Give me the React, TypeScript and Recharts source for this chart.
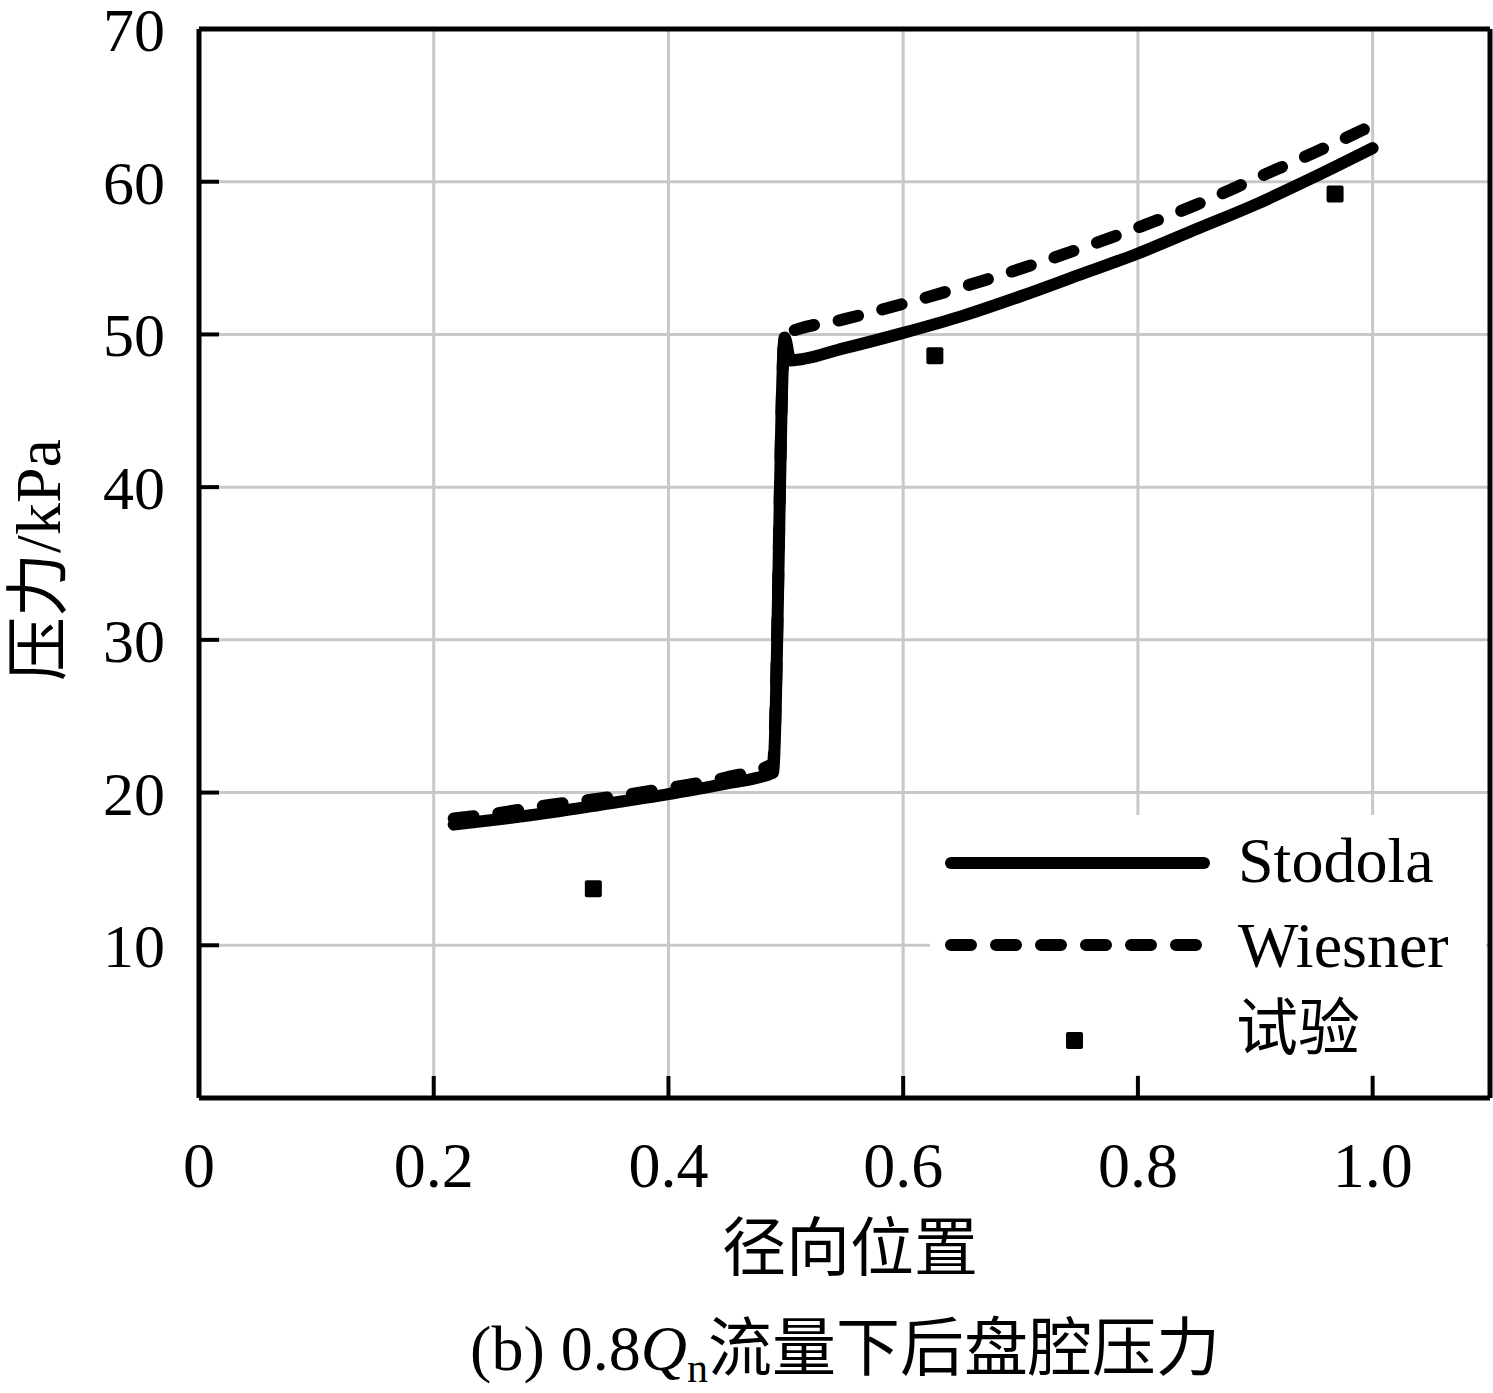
import {
  ComposedChart,
  Line,
  Scatter,
  XAxis,
  YAxis,
  CartesianGrid,
  Legend,
  ReferenceLine,
} from "recharts";

// radial position (x) and pressure in kPa (p)
const stodola = [
  { x: 0.217, p: 17.9 },
  { x: 0.25, p: 18.2 },
  { x: 0.3, p: 18.7 },
  { x: 0.35, p: 19.3 },
  { x: 0.4, p: 19.9 },
  { x: 0.45, p: 20.6 },
  { x: 0.489, p: 21.3 },
  { x: 0.499, p: 49.8 },
  { x: 0.504, p: 48.3 },
  { x: 0.55, p: 49.1 },
  { x: 0.6, p: 50.1 },
  { x: 0.65, p: 51.2 },
  { x: 0.7, p: 52.5 },
  { x: 0.75, p: 53.9 },
  { x: 0.8, p: 55.3 },
  { x: 0.85, p: 56.9 },
  { x: 0.9, p: 58.5 },
  { x: 0.95, p: 60.3 },
  { x: 1.0, p: 62.2 },
];

const wiesner = [
  { x: 0.217, p: 18.3 },
  { x: 0.25, p: 18.6 },
  { x: 0.3, p: 19.2 },
  { x: 0.35, p: 19.7 },
  { x: 0.4, p: 20.3 },
  { x: 0.45, p: 21.0 },
  { x: 0.489, p: 21.9 },
  { x: 0.499, p: 50.0 },
  { x: 0.55, p: 51.0 },
  { x: 0.6, p: 52.0 },
  { x: 0.65, p: 53.1 },
  { x: 0.7, p: 54.3 },
  { x: 0.75, p: 55.6 },
  { x: 0.8, p: 57.0 },
  { x: 0.85, p: 58.5 },
  { x: 0.9, p: 60.2 },
  { x: 0.95, p: 61.9 },
  { x: 1.0, p: 63.7 },
];

const experiment = [
  { x: 0.336, p: 13.7 },
  { x: 0.627, p: 48.6 },
  { x: 0.968, p: 59.2 },
];

const xTicks = [0, 0.2, 0.4, 0.6, 0.8, 1.0];
const yTicks = [10, 20, 30, 40, 50, 60, 70];
const legendNames = ["Stodola", "Wiesner", "试验"];

const FONT = '"Liberation Serif", "Times New Roman", "Noto Sans CJK SC", serif';
const CJK = '"Noto Sans CJK SC", "Liberation Serif", serif';

const XTick = ({ x, y, payload }: any) => (
  <g>
    {payload.value > 0 && (
      <line x1={x} y1={y} x2={x} y2={y - 22} stroke="#000" strokeWidth={4} />
    )}
    <text x={x} y={y + 89} textAnchor="middle" fontFamily={FONT} fontSize={64} fill="#000">
      {payload.value === 0 ? "0" : payload.value.toFixed(1)}
    </text>
  </g>
);

const YTick = ({ x, y, payload }: any) => (
  <g>
    <line x1={x} y1={y} x2={x + 20} y2={y} stroke="#000" strokeWidth={4} />
    <text x={x - 34} y={y + 22} textAnchor="end" fontFamily={FONT} fontSize={62} fill="#000">
      {payload.value}
    </text>
  </g>
);

const Square = ({ cx, cy }: any) => (
  <rect x={cx - 8.5} y={cy - 8.5} width={17} height={17} rx={2} fill="#000" />
);

const renderLegend = () => (
  <svg width={556} height={260} style={{ display: "block" }}>
    <rect x={0} y={0} width={556} height={260} fill="#fff" />
    <line x1={21} y1={48} x2={274} y2={48} stroke="#000" strokeWidth={12} strokeLinecap="round" />
    <line
      x1={21}
      y1={130}
      x2={274}
      y2={130}
      stroke="#000"
      strokeWidth={12}
      strokeLinecap="round"
      strokeDasharray="20 25"
    />
    <rect x={136} y={217} width={17} height={17} rx={2} fill="#000" />
    <text x={308} y={67} fontFamily={FONT} fontSize={64} fill="#000">
      {legendNames[0]}
    </text>
    <text x={308} y={152} fontFamily={FONT} fontSize={64} fill="#000">
      {legendNames[1]}
    </text>
    <text x={306} y={235} fontFamily={CJK} fontSize={62} fill="#000">
      {legendNames[2]}
    </text>
  </svg>
);

const XTitle = ({ viewBox }: any) => {
  const { y } = viewBox;
  return (
    <g>
      <text x={850} y={y + 172} textAnchor="middle" fontFamily={CJK} fontSize={64} fill="#000">
        径向位置
      </text>
      <text x={845} y={y + 272} textAnchor="middle" fontFamily={FONT} fontSize={64} fill="#000">
        <tspan>(b) 0.8</tspan>
        <tspan fontStyle="italic">Q</tspan>
        <tspan fontSize={42} dy={12}>n</tspan>
        <tspan fontFamily={CJK} dy={-12}>流量下后盘腔压力</tspan>
      </text>
    </g>
  );
};

const YTitle = () => (
  <text
    x={0}
    y={0}
    transform="translate(60, 560) rotate(-90)"
    textAnchor="middle"
    fontFamily={FONT}
    fontSize={64}
    fill="#000"
  >
    <tspan fontFamily={CJK}>压力</tspan>
    <tspan>/kPa</tspan>
  </text>
);

export default function App() {
  return (
    <div style={{ position: "absolute", left: 0, top: 0, width: 1493, height: 1393, background: "#fff" }}>
      <ComposedChart width={1493} height={1393} margin={{ top: 29, right: 3, bottom: 0, left: 0 }}>
        <CartesianGrid stroke="#c8c8c8" strokeWidth={3} />
        <XAxis
          dataKey="x"
          type="number"
          domain={[0, 1.1]}
          ticks={xTicks}
          height={295}
          tickSize={0}
          tickMargin={0}
          tickLine={false}
          tick={<XTick />}
          axisLine={{ stroke: "#000", strokeWidth: 5 }}
          label={<XTitle />}
        />
        <YAxis
          type="number"
          domain={[0, 70]}
          ticks={yTicks}
          width={199}
          tickSize={0}
          tickMargin={0}
          tickLine={false}
          tick={<YTick />}
          axisLine={{ stroke: "#000", strokeWidth: 5 }}
          label={<YTitle />}
        />
        <ReferenceLine y={70} stroke="#000" strokeWidth={5} />
        <ReferenceLine x={1.1} stroke="#000" strokeWidth={5} />
        <Legend
          content={renderLegend}
          layout="vertical"
          align="center"
          verticalAlign="middle"
          wrapperStyle={{ left: 930, top: 815, width: 556, height: 260 }}
        />
        <Line
          data={wiesner}
          dataKey="p"
          name="Wiesner"
          type="monotone"
          stroke="#000"
          strokeWidth={12}
          strokeLinecap="round"
          strokeLinejoin="round"
          strokeDasharray="20 25"
          dot={false}
          activeDot={false}
          isAnimationActive={false}
        />
        <Line
          data={stodola}
          dataKey="p"
          name="Stodola"
          type="monotone"
          stroke="#000"
          strokeWidth={12}
          strokeLinecap="round"
          strokeLinejoin="round"
          dot={false}
          activeDot={false}
          isAnimationActive={false}
        />
        <Scatter
          data={experiment}
          dataKey="p"
          name="试验"
          fill="#000"
          shape={<Square />}
          isAnimationActive={false}
        />
      </ComposedChart>
    </div>
  );
}
